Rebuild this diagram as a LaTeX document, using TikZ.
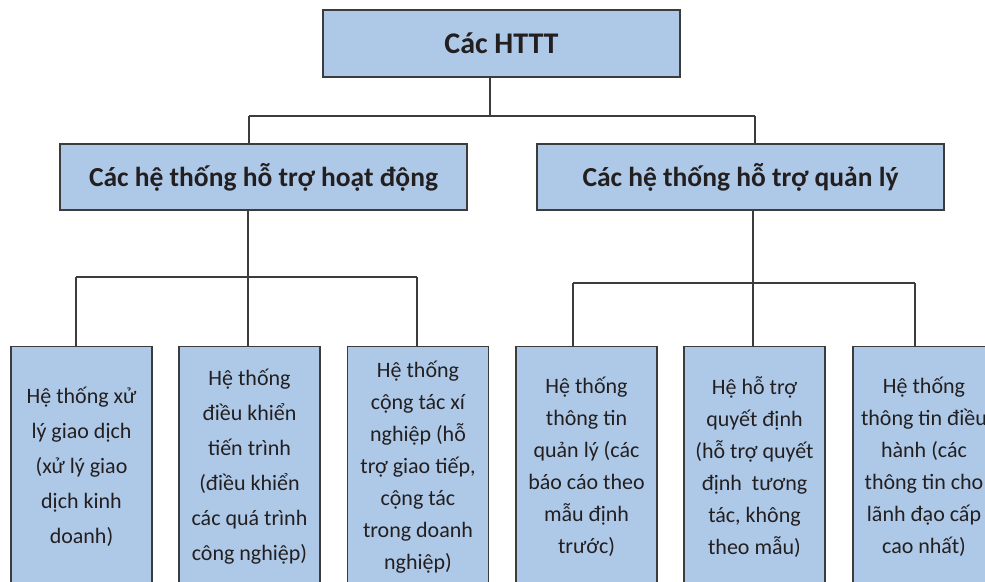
\documentclass[tikz,border=0pt]{standalone}
\usepackage{fontspec}
\setmainfont{Carlito}
\definecolor{boxfill}{RGB}{174,201,232}
\definecolor{boxline}{RGB}{60,60,60}
\definecolor{txt}{RGB}{35,31,32}
\begin{document}
\begin{tikzpicture}[x=1pt,y=-1pt,
  hbox/.style={draw=boxline, line width=1.4pt, fill=boxfill, text=txt, inner sep=0pt, anchor=center},
  topbox/.style={hbox, minimum width=357pt, minimum height=67pt, font=\fontsize{30}{34}\selectfont\bfseries},
  midbox/.style={hbox, minimum width=407pt, minimum height=66pt, font=\fontsize{27.5}{31}\selectfont\bfseries},
  leafbox/.style={hbox, minimum width=141pt, minimum height=300pt, align=center},
  wide/.style={font=\fontsize{22}{35}\selectfont},
  narrow/.style={font=\fontsize{22}{32}\selectfont},
  conn/.style={draw=boxline, line width=1.2pt}]
\useasboundingbox (0,0) rectangle (985,581);
\clip (0,0) rectangle (985,581);
% top
\node[topbox] (top) at (501.5,43.5) {Các HTTT};
% middle
\node[midbox] (ops) at (263.5,177) {Các hệ thống hỗ trợ hoạt động};
\node[midbox] (mgmt) at (740.5,177) {Các hệ thống hỗ trợ quản lý};
% leaves
\node[leafbox, wide, anchor=north] (l1) at (81.5,346) {};
\node[leafbox, wide, anchor=north] (l2) at (249.5,346) {};
\node[leafbox, narrow, anchor=north] (l3) at (418,346) {};
\node[leafbox, narrow, anchor=north] (l4) at (586.5,346) {};
\node[leafbox, narrow, anchor=north] (l5) at (754.5,346) {};
\node[leafbox, narrow, anchor=north] (l6) at (923.5,346) {};
% leaf texts
\node[wide, text=txt, align=center] (t1) at (l1.center |- 0,467) {Hệ thống xử\\lý giao dịch\\(xử lý giao\\dịch kinh\\doanh)};
\node[wide, text=txt, align=center] (t2) at (l2.center |- 0,467) {Hệ thống\\điều khiển\\tiến trình\\(điều khiển\\các quá trình\\công nghiệp)};
\node[narrow, text=txt, align=center] (t3) at (l3.center |- 0,467) {Hệ thống\\cộng tác xí\\nghiệp (hỗ\\trợ giao tiếp,\\cộng tác\\trong doanh\\nghiệp)};
\node[narrow, text=txt, align=center] (t4) at (l4.center |- 0,467) {Hệ thống\\thông tin\\quản lý (các\\báo cáo theo\\mẫu định\\trước)};
\node[narrow, text=txt, align=center] (t5) at (l5.center |- 0,467) {Hệ hỗ trợ\\quyết định\\(hỗ trợ quyết\\định~~tương\\tác, không\\theo mẫu)};
\node[narrow, text=txt, align=center] (t6) at (924,467) {Hệ thống\\thông tin điều\\hành (các\\thông tin cho\\lãnh đạo cấp\\cao nhất)};
% junctions
\coordinate (j0) at (490,116);
\coordinate (j0l) at (249,116);
\coordinate (j0r) at (755,116);
\coordinate (j1) at (248,277);
\coordinate (j1a) at (76,277);
\coordinate (j1c) at (417,277);
\coordinate (j2) at (753,283);
\coordinate (j2a) at (573,283);
\coordinate (j2c) at (915,283);
% connectors
\draw[conn] (top.south -| j0) -- (j0);
\draw[conn] (j0l) -- (j0r);
\draw[conn] (j0l) -- (ops.north -| j0l);
\draw[conn] (j0r) -- (mgmt.north -| j0r);
\draw[conn] (ops.south -| j1) -- (j1);
\draw[conn] (j1a) -- (j1c);
\draw[conn] (j1a) -- (l1.north -| j1a);
\draw[conn] (j1) -- (l2.north -| j1);
\draw[conn] (j1c) -- (l3.north -| j1c);
\draw[conn] (mgmt.south -| j2) -- (j2);
\draw[conn] (j2a) -- (j2c);
\draw[conn] (j2a) -- (l4.north -| j2a);
\draw[conn] (j2) -- (l5.north -| j2);
\draw[conn] (j2c) -- (l6.north -| j2c);
\end{tikzpicture}
\end{document}
